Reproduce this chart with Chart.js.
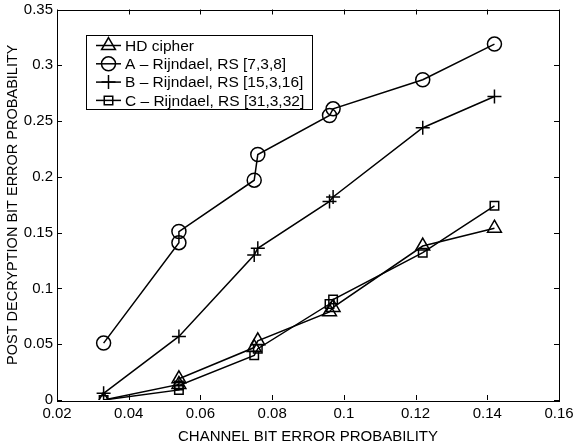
<!doctype html>
<html>
  <head>
    <meta charset="UTF-8">
    <script src="https://cdn.jsdelivr.net/npm/chart.js"></script>
    <style>
      html, body { margin: 0; padding: 0; background: #fff; }
      #wrap { position: relative; width: 575px; height: 446px; }
    </style>
  </head>
  <body>
    <div id="wrap"><canvas id="ber"></canvas></div>
    <script>
      // values, [channel BER, post decryption BER]
      const hdCipher = [[0.033, 0.000], [0.054, 0.014], [0.054, 0.019], [0.075, 0.047], [0.076, 0.053],
                        [0.096, 0.079], [0.097, 0.083], [0.122, 0.138], [0.142, 0.154]];
      const rsA = [[0.033, 0.051], [0.054, 0.141], [0.054, 0.151], [0.075, 0.197], [0.076, 0.220],
                   [0.096, 0.255], [0.097, 0.261], [0.122, 0.287], [0.142, 0.319]];
      const rsB = [[0.033, 0.006], [0.054, 0.057], [0.075, 0.130], [0.076, 0.136], [0.096, 0.178],
                   [0.097, 0.182], [0.122, 0.244], [0.142, 0.272]];
      const rsC = [[0.033, 0.000], [0.054, 0.009], [0.054, 0.013], [0.075, 0.040], [0.076, 0.046],
                   [0.096, 0.086], [0.097, 0.090], [0.122, 0.132], [0.142, 0.174]];

      const seriesLabels = ['HD cipher', 'A \u2013 Rijndael, RS [7,3,8]', 'B \u2013 Rijndael, RS [15,3,16]', 'C \u2013 Rijndael, RS [31,3,32]'];
      const xTicks = [0.02, 0.04, 0.06, 0.08, 0.1, 0.12, 0.14, 0.16];
      const yTicks = [0, 0.05, 0.1, 0.15, 0.2, 0.25, 0.3, 0.35];

      const FONT = 'Liberation Sans, Arial, Helvetica, sans-serif';

      function series(label, pts, style, radius) {
        return {
          label,
          data: pts.map(p => ({ x: p[0], y: p[1] })),
          showLine: true,
          borderColor: '#000',
          borderWidth: 1.5,
          backgroundColor: 'rgba(0,0,0,0)',
          pointStyle: style,
          pointRadius: radius,
          pointBorderWidth: 1.5,
          pointBorderColor: '#000',
          pointBackgroundColor: 'rgba(0,0,0,0)',
          tension: 0,
        };
      }

      // inward ticks on all four sides + box, matlab style
      const boxTicks = {
        id: 'boxTicks',
        afterDraw(chart) {
          const { ctx, chartArea: a, scales } = chart;
          ctx.save();
          ctx.strokeStyle = '#000';
          ctx.lineWidth = 1;
          ctx.strokeRect(Math.round(a.left) + 0.5, Math.round(a.top) + 0.5,
                         Math.round(a.right - a.left), Math.round(a.bottom - a.top));
          const len = 5;
          ctx.beginPath();
          xTicks.forEach(v => {
            const x = Math.round(scales.x.getPixelForValue(v)) + 0.5;
            ctx.moveTo(x, a.bottom); ctx.lineTo(x, a.bottom - len);
            ctx.moveTo(x, a.top); ctx.lineTo(x, a.top + len);
          });
          yTicks.forEach(v => {
            const y = Math.round(scales.y.getPixelForValue(v)) + 0.5;
            ctx.moveTo(a.left, y); ctx.lineTo(a.left + len, y);
            ctx.moveTo(a.right, y); ctx.lineTo(a.right - len, y);
          });
          ctx.stroke();
          ctx.restore();
        }
      };

      // legend box inside the axes with line + marker samples
      const boxLegend = {
        id: 'boxLegend',
        afterDraw(chart) {
          const { ctx, chartArea: a } = chart;
          const left = Math.round(a.left) + 29, top = Math.round(a.top) + 25;
          const w = 226, rowH = 18.3, h = 74;
          ctx.save();
          ctx.fillStyle = '#fff';
          ctx.fillRect(left, top, w, h);
          ctx.strokeStyle = '#000';
          ctx.lineWidth = 1;
          ctx.strokeRect(left + 0.5, top + 0.5, w, h);
          ctx.font = '15.5px ' + FONT;
          ctx.textBaseline = 'middle';
          chart.data.datasets.forEach((ds, i) => {
            const y = top + 10.5 + i * rowH;
            ctx.strokeStyle = '#000';
            ctx.lineWidth = 1.5;
            ctx.beginPath();
            ctx.moveTo(left + 10, y); ctx.lineTo(left + 35, y);
            ctx.stroke();
            ctx.fillStyle = 'rgba(0,0,0,0)';
            Chart.helpers.drawPoint(ctx, {
              pointStyle: ds.pointStyle, radius: ds.pointRadius, borderWidth: 1.5
            }, left + 22.5, y);
            ctx.fillStyle = '#000';
            ctx.fillText(ds.label, left + 39, y + 1);
          });
          ctx.restore();
        }
      };

      new Chart(document.getElementById('ber'), {
        type: 'scatter',
        data: {
          datasets: [
            series(seriesLabels[0], hdCipher, 'triangle', 8),
            series(seriesLabels[1], rsA, 'circle', 7),
            series(seriesLabels[2], rsB, 'cross', 7),
            series(seriesLabels[3], rsC, 'rect', 6),
          ]
        },
        options: {
          responsive: true,
          maintainAspectRatio: false,
          animation: false,
          layout: { padding: { top: 0, right: 0, left: 0, bottom: 0 } },
          plugins: {
            legend: { display: false },
            tooltip: { enabled: false },
          },
          scales: {
            x: {
              type: 'linear',
              min: 0.02, max: 0.16,
              afterBuildTicks: s => { s.ticks = xTicks.map(v => ({ value: v })); },
              afterFit: s => { s.height = 46; s.paddingLeft = 0; s.paddingRight = 16; },
              grid: { display: false, drawTicks: false },
              border: { display: false },
              ticks: {
                color: '#000', padding: 5,
                font: { family: FONT, size: 15 },
                callback: v => String(Number(v.toFixed(2))),
              },
              title: {
                display: true, text: 'CHANNEL BIT ERROR PROBABILITY', color: '#000',
                font: { family: FONT, size: 15 }, padding: { top: 1, bottom: 0 },
              },
            },
            y: {
              type: 'linear',
              min: 0, max: 0.35,
              afterBuildTicks: s => { s.ticks = yTicks.map(v => ({ value: v })); },
              afterFit: s => { s.width = 57; s.paddingTop = 8; s.paddingBottom = 0; },
              grid: { display: false, drawTicks: false },
              border: { display: false },
              ticks: {
                color: '#000', padding: 4,
                font: { family: FONT, size: 15 },
                callback: v => String(Number(v.toFixed(2))),
              },
              title: {
                display: true, text: 'POST DECRYPTION BIT ERROR PROBABILITY', color: '#000',
                font: { family: FONT, size: 14.5 }, padding: { top: 4, bottom: 0 },
              },
            },
          },
        },
        plugins: [boxTicks, boxLegend],
      });
    </script>
  </body>
</html>
